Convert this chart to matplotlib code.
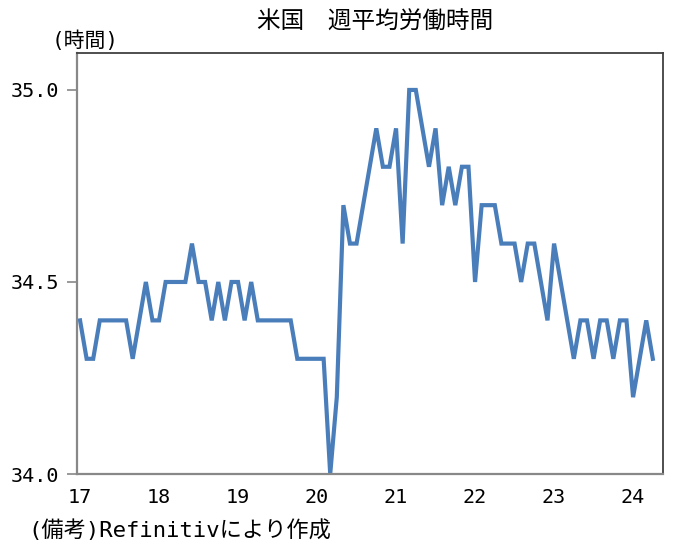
import numpy as np
import matplotlib
matplotlib.use("Agg")
import matplotlib.pyplot as plt

plt.rcParams['font.family'] = ['DejaVu Sans Mono', 'Noto Sans CJK JP']

# 米国 週平均労働時間（月次, 2017年1月～2024年4月）
hours_2017 = [34.4, 34.3, 34.3, 34.4, 34.4, 34.4, 34.4, 34.4, 34.3, 34.4, 34.5, 34.4]
hours_2018 = [34.4, 34.5, 34.5, 34.5, 34.5, 34.6, 34.5, 34.5, 34.4, 34.5, 34.4, 34.5]
hours_2019 = [34.5, 34.4, 34.5, 34.4, 34.4, 34.4, 34.4, 34.4, 34.4, 34.3, 34.3, 34.3]
hours_2020 = [34.3, 34.3, 34.0, 34.2, 34.7, 34.6, 34.6, 34.7, 34.8, 34.9, 34.8, 34.8]
hours_2021 = [34.9, 34.6, 35.0, 35.0, 34.9, 34.8, 34.9, 34.7, 34.8, 34.7, 34.8, 34.8]
hours_2022 = [34.5, 34.7, 34.7, 34.7, 34.6, 34.6, 34.6, 34.5, 34.6, 34.6, 34.5, 34.4]
hours_2023 = [34.6, 34.5, 34.4, 34.3, 34.4, 34.4, 34.3, 34.4, 34.4, 34.3, 34.4, 34.4]
hours_2024 = [34.2, 34.3, 34.4, 34.3]

year_labels = ["17", "18", "19", "20", "21", "22", "23", "24"]
y_ticks = [34.0, 34.5, 35.0]

hours = (hours_2017 + hours_2018 + hours_2019 + hours_2020 + hours_2021
         + hours_2022 + hours_2023 + hours_2024)
months = np.arange(len(hours))

fig = plt.figure(figsize=(6.77, 5.46), dpi=100)
ax = fig.add_axes([77 / 677, 1 - 474 / 546, (662.7 - 77) / 677, (474 - 52.7) / 546])

ax.plot(months, hours, color="#4A7EBB", linewidth=3.0, solid_joinstyle="miter")

ax.set_xlim(-0.46, 88.5)
ax.set_ylim(34.0, 35.097)
ax.set_yticks(y_ticks)
ax.set_yticklabels([f"{v:.1f}" for v in y_ticks])
ax.set_xticks(np.arange(len(year_labels)) * 12)
ax.set_xticklabels(year_labels)

ax.tick_params(axis="y", direction="out", length=7, width=1.2, color="#888888",
               labelsize=14.5, pad=6)
ax.tick_params(axis="x", length=0, labelsize=14.5, pad=10)

for side in ["left", "bottom"]:
    ax.spines[side].set_color("#888888")
    ax.spines[side].set_linewidth(1.6)
for side in ["top", "right"]:
    ax.spines[side].set_color("#404040")
    ax.spines[side].set_linewidth(1.3)

fig.text(375 / 677, 1 - 22 / 546, "米国　週平均労働時間", ha="center", va="center", fontsize=17)
fig.text(52 / 677, 1 - 41 / 546, "(時間)", ha="left", va="center", fontsize=15)
fig.text(28 / 677, 1 - 530 / 546, "(備考)Refinitivにより作成", ha="left", va="center", fontsize=16)

fig.savefig("out.png", dpi=100)
